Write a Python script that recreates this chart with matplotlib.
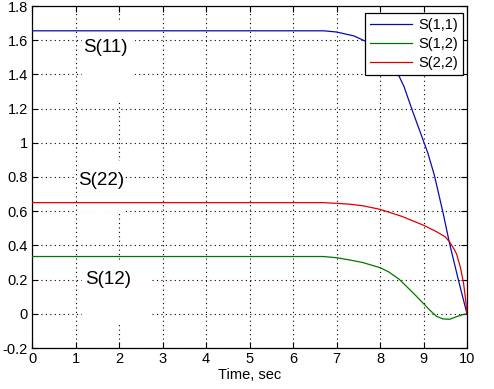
import matplotlib
matplotlib.use("Agg")
import matplotlib.pyplot as plt
from matplotlib.patches import Rectangle

plt.rcParams['font.family'] = ['Liberation Sans', 'DejaVu Sans']

# ---- data ----
t_s11 = [0, 6.7, 7.0, 7.4, 7.7, 8.0, 8.2, 8.4, 8.55, 8.77, 9.0, 9.1, 9.25, 9.45, 9.6, 9.8, 10.0]
s11 = [1.655, 1.655, 1.648, 1.625, 1.59, 1.535, 1.48, 1.41, 1.33, 1.17, 1.01, 0.94, 0.81, 0.59, 0.41, 0.20, 0.0]

t_s12 = [0, 6.7, 7.0, 7.3, 7.6, 8.0, 8.2, 8.45, 8.77, 9.0, 9.15, 9.3, 9.45, 9.6, 9.76, 9.9, 10.0]
s12 = [0.335, 0.335, 0.328, 0.315, 0.30, 0.27, 0.245, 0.20, 0.12, 0.06, 0.02, -0.015, -0.03, -0.032, -0.017, -0.005, 0.0]

t_s22 = [0, 6.7, 7.0, 7.3, 7.6, 8.0, 8.5, 9.0, 9.3, 9.5, 9.6, 9.7, 9.76, 9.85, 9.92, 9.97, 10.0]
s22 = [0.65, 0.65, 0.646, 0.641, 0.632, 0.611, 0.57, 0.518, 0.48, 0.45, 0.42, 0.38, 0.35, 0.27, 0.18, 0.08, 0.0]

legend_labels = ['S(1,1)', 'S(1,2)', 'S(2,2)']
annot_labels = ['S(11)', 'S(22)', 'S(12)']
xticks = list(range(0, 11))
yticks = [-0.2, 0, 0.2, 0.4, 0.6, 0.8, 1, 1.2, 1.4, 1.6, 1.8]
ytick_labels = ['-0.2', '0', '0.2', '0.4', '0.6', '0.8', '1', '1.2', '1.4', '1.6', '1.8']

# ---- figure ----
fig = plt.figure(figsize=(4.94, 3.89), dpi=100)
ax = fig.add_axes([32/494, 1-348/389, 435/494, 342/389])

ax.plot(t_s11, s11, color='#0a0ab4', lw=0.9, label=legend_labels[0], zorder=3)
ax.plot(t_s12, s12, color='#007800', lw=0.9, label=legend_labels[1], zorder=3)
ax.plot(t_s22, s22, color='#e00000', lw=0.9, label=legend_labels[2], zorder=3)

ax.set_xlim(0, 10)
ax.set_ylim(-0.2, 1.8)
ax.set_xticks(xticks)
ax.set_yticks(yticks)
ax.set_yticklabels(ytick_labels)
ax.grid(True, color='black', linestyle=(0, (1, 3)), linewidth=0.8)
ax.set_axisbelow(True)
ax.tick_params(direction='in', length=4, width=0.8, top=True, right=True,
               labelsize=10.5, colors='black', pad=3)
for sp in ax.spines.values():
    sp.set_linewidth(0.9)
ax.set_xlabel('Time, sec', fontsize=10.5, labelpad=1)

# white boxes behind annotations (hide grid)
boxes = [(1.15, 1.25, 1.22, 0.45), (1.03, 0.595, 1.11, 0.30), (1.15, -0.055, 1.56, 0.37)]
for (bx, by, bw, bh) in boxes:
    ax.add_patch(Rectangle((bx, by), bw, bh, facecolor='white', edgecolor='none', zorder=1.8))

ax.text(1.17, 1.56, annot_labels[0], fontsize=13.5, va='center', ha='left', zorder=2.5)
ax.text(1.06, 0.782, annot_labels[1], fontsize=13.5, va='center', ha='left', zorder=2.5)
ax.text(1.22, 0.198, annot_labels[2], fontsize=13.5, va='center', ha='left', zorder=2.5)

leg = ax.legend(loc='upper right', bbox_to_anchor=(463/494, 1-13/389), bbox_transform=fig.transFigure,
                fontsize=10.5, frameon=True, fancybox=False, framealpha=1, edgecolor='black',
                handlelength=2.9, handletextpad=0.4, borderpad=0.35, labelspacing=0.35,
                borderaxespad=0)
leg.get_frame().set_linewidth(0.9)

fig.savefig('out.png', dpi=100)
